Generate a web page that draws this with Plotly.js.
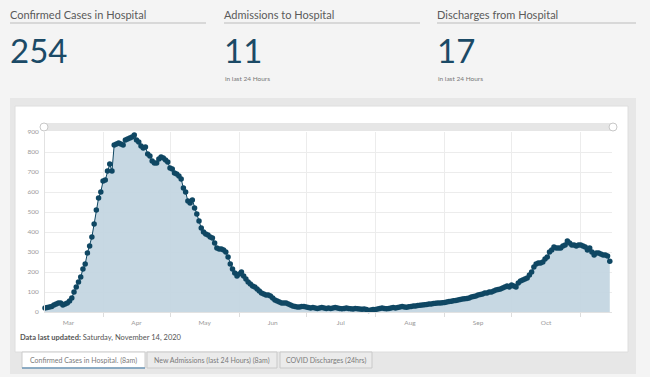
<!DOCTYPE html>
<html>
<head>
<meta charset="utf-8">
<script src="https://cdn.plot.ly/plotly-3.0.1.min.js"></script>
<style>
  html, body { margin: 0; padding: 0; background: #f4f4f4; }
  #chart { width: 650px; height: 377px; }
</style>
</head>
<body>
<div id="chart"></div>
<script>
// ---- Data ----
const startDate = '2020-03-06';
const marValues = [20, 22, 25, 28, 35, 40, 45, 45, 35, 40, 45, 55, 70, 100, 125, 150, 175, 215, 240, 295, 330, 375, 440, 510, 570, 600];
const aprValues = [655, 660, 705, 740, 705, 835, 840, 845, 840, 835, 860, 865, 870, 875, 885, 860, 850, 830, 820, 825, 790, 780, 755, 745, 745, 765, 775, 770, 760, 750];
const mayValues = [720, 715, 695, 690, 680, 665, 620, 600, 555, 545, 560, 520, 490, 455, 420, 400, 390, 385, 375, 370, 345, 320, 315, 315, 310, 300, 275, 240, 215, 195, 180];
const junValues = [190, 200, 180, 165, 150, 140, 130, 125, 115, 105, 95, 90, 85, 85, 80, 70, 60, 55, 50, 45, 45, 45, 40, 35, 30, 28, 25, 25, 28, 28];
const julValues = [25, 22, 20, 22, 20, 18, 20, 22, 20, 18, 20, 18, 20, 22, 20, 18, 16, 18, 20, 18, 16, 15, 18, 16, 15, 14, 15, 12, 8, 10, 12];
const augValues = [12, 15, 18, 20, 18, 16, 18, 20, 22, 20, 22, 25, 28, 25, 24, 26, 28, 30, 30, 32, 34, 35, 36, 38, 40, 40, 42, 44, 45, 45, 46];
const sepValues = [48, 50, 52, 54, 56, 58, 60, 62, 65, 66, 68, 70, 75, 78, 80, 85, 88, 90, 95, 95, 100, 100, 105, 110, 112, 115, 120, 125, 130, 125];
const octValues = [135, 130, 125, 145, 155, 160, 165, 170, 185, 200, 225, 240, 245, 245, 250, 265, 275, 300, 310, 325, 320, 320, 320, 330, 335, 355, 345, 335, 335, 330, 335];
const novValues = [335, 330, 325, 310, 320, 300, 285, 295, 295, 290, 285, 285, 280, 254];

const headerTitles = ['Confirmed Cases in Hospital', 'Admissions to Hospital', 'Discharges from Hospital'];
const headerValues = ['254', '11', '17'];
const headerSubs = ['', 'in last 24 Hours', 'in last 24 Hours'];
const tabLabels = ['Confirmed Cases in Hospital. (8am)', 'New Admissions (last 24 Hours) (8am)', 'COVID Discharges (24hrs)'];
const updatedLabel = 'Data last updated:';
const updatedDate = 'Saturday, November 14, 2020';
const yTicks = [0, 100, 200, 300, 400, 500, 600, 700, 800, 900];

// ---- Build series ----
const values = [].concat(marValues, aprValues, mayValues, junValues, julValues, augValues, sepValues, octValues, novValues);
const dates = [];
const d0 = new Date(startDate + 'T00:00:00Z');
for (let i = 0; i < values.length; i++) {
  const d = new Date(d0.getTime() + i * 86400000);
  dates.push(d.toISOString().slice(0, 10));
}

// ---- Pixel helpers (layout only) ----
const W = 650, H = 377;
const L = 45, R = 38, T = 132, B = 65;
const PW = W - L - R, PH = H - T - B;
const px = x => (x - L) / PW;
const py = y => (H - B - y) / PH;

const rect = (x0, y0, x1, y1, fill, line, lw) => ({
  type: 'rect', xref: 'paper', yref: 'paper', layer: 'below',
  x0: px(x0), x1: px(x1), y0: py(y1), y1: py(y0),
  fillcolor: fill, line: { color: line || fill, width: lw === undefined ? 0 : lw }
});
const hline = (x0, x1, y, color, w) => ({
  type: 'line', xref: 'paper', yref: 'paper', layer: 'below',
  x0: px(x0), x1: px(x1), y0: py(y), y1: py(y), line: { color: color, width: w }
});
const circle = (cx, cy, r) => ({
  type: 'circle', xref: 'paper', yref: 'paper', layer: 'above',
  x0: px(cx - r), x1: px(cx + r), y0: py(cy + r), y1: py(cy - r),
  fillcolor: '#ffffff', line: { color: '#c8c8c8', width: 1 }
});

const shapes = [
  rect(10, 98, 636, 374, '#e7e7e7'),
  rect(15, 106, 628, 352, '#ffffff', '#dedede', 1),
  rect(43, 123, 615, 131, '#e6e6e6'),
  hline(10, 206, 23, '#cfcfcf', 1.5),
  hline(224, 420, 23, '#cfcfcf', 1.5),
  hline(437, 636, 23, '#cfcfcf', 1.5),
  rect(22, 352, 145, 368, '#ffffff', '#cccccc', 1),
  hline(22, 145, 368, '#6f98b8', 1.5),
  rect(147, 352, 277, 368, '#ebebeb', '#c9c9c9', 1),
  rect(280, 352, 372, 368, '#ebebeb', '#c9c9c9', 1),
  circle(44, 127, 4),
  circle(613, 127, 4)
];

const ann = (x, y, text, size, color, anchor, extra) => Object.assign({
  xref: 'paper', yref: 'paper', x: px(x), y: py(y), text: text, showarrow: false,
  xanchor: anchor || 'left', yanchor: 'middle',
  font: { family: 'Lato, "Open Sans", sans-serif', size: size, color: color }
}, extra || {});

const headerX = [8, 222, 435];
const annotations = [];
headerTitles.forEach((t, i) => {
  annotations.push(ann(headerX[i], 14, t, 11, '#5a5a5a'));
  annotations.push(ann(headerX[i], 50, headerValues[i], 33, '#1b4a66'));
  if (headerSubs[i]) annotations.push(ann(headerX[i] + 1, 78, headerSubs[i], 6.5, '#777777'));
});
annotations.push(ann(18, 337, '<b>' + updatedLabel + '</b> ' + updatedDate, 7.5, '#555555'));
const tabCenters = [83, 212, 326];
tabLabels.forEach((t, i) => annotations.push(ann(tabCenters[i], 360, t, 7, '#7a7a7a', 'center')));

const trace = {
  type: 'scatter', mode: 'lines+markers',
  x: dates, y: values,
  fill: 'tozeroy', fillcolor: 'rgba(196,214,225,0.95)',
  line: { color: '#0f4763', width: 1 },
  marker: { color: '#0f4763', size: 5.5 },
  cliponaxis: false,
  hoverinfo: 'x+y'
};

const layout = {
  width: W, height: H,
  margin: { l: L, r: R, t: T, b: B, pad: 0 },
  paper_bgcolor: '#f4f4f4',
  plot_bgcolor: 'rgba(0,0,0,0)',
  showlegend: false,
  font: { family: 'Lato, "Open Sans", sans-serif' },
  xaxis: {
    type: 'date',
    range: ['2020-03-06', '2020-11-15'],
    tick0: '2020-03-01', dtick: 'M1',
    tickformat: '%b', ticklabelmode: 'period',
    showgrid: true, gridcolor: '#ececec', gridwidth: 1,
    ticks: 'outside', ticklen: 4, tickcolor: '#dddddd',
    showline: true, linecolor: '#e2e2e2', linewidth: 1,
    tickfont: { size: 6.5, color: '#9a9a9a' },
    zeroline: false, fixedrange: true
  },
  yaxis: {
    range: [0, 900],
    tickvals: yTicks,
    showgrid: true, gridcolor: '#ececec', gridwidth: 1,
    showline: true, linecolor: '#e2e2e2', linewidth: 1,
    ticks: '', ticklabelstandoff: 4,
    tickfont: { size: 6.5, color: '#9a9a9a' },
    zeroline: false, fixedrange: true
  },
  shapes: shapes,
  annotations: annotations
};

Plotly.newPlot('chart', [trace], layout, { displayModeBar: false, staticPlot: true });
</script>
</body>
</html>
